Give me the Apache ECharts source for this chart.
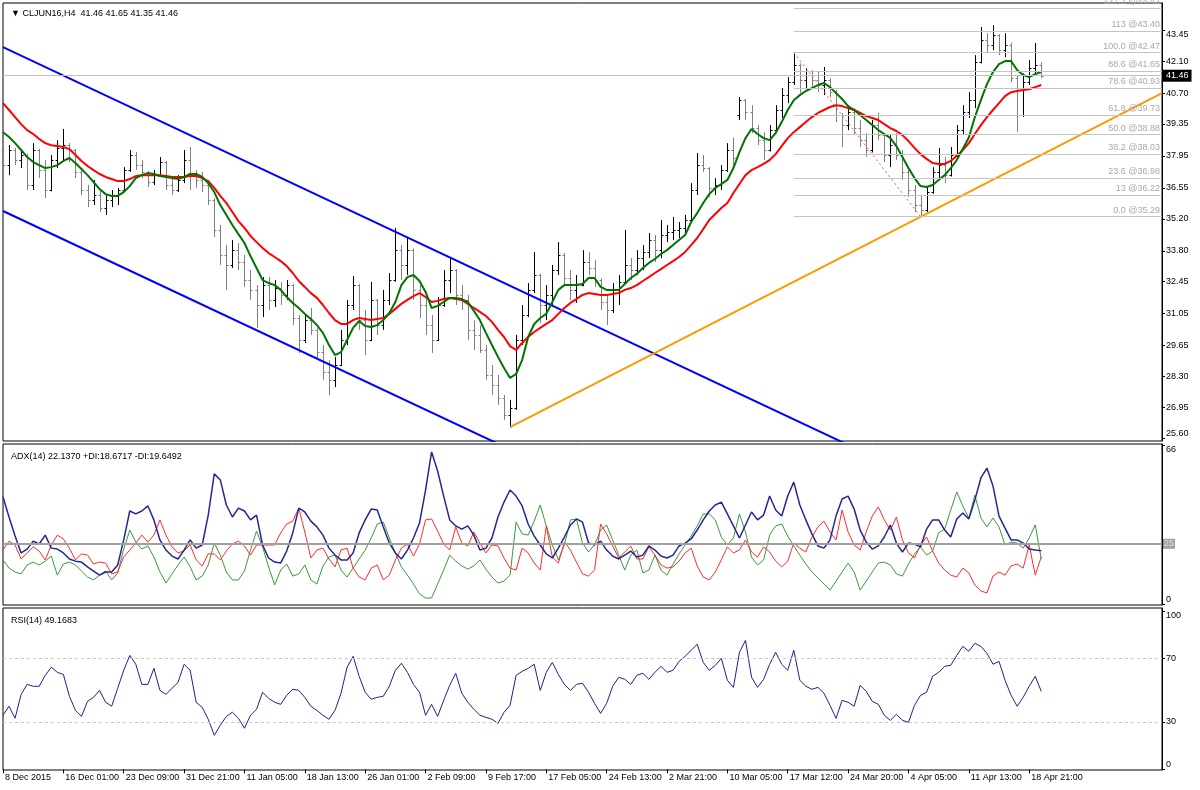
<!DOCTYPE html>
<html><head><meta charset="utf-8">
<script src="https://cdn.jsdelivr.net/npm/echarts@6/dist/echarts.min.js"></script>
<style>html,body{margin:0;padding:0;background:#fff}#c{width:1200px;height:790px}</style>
</head><body><div id="c"></div><script>
const timeLabels = ['8 Dec 2015','16 Dec 01:00','23 Dec 09:00','31 Dec 21:00','11 Jan 05:00','18 Jan 13:00','26 Jan 01:00','2 Feb 09:00','9 Feb 17:00','17 Feb 05:00','24 Feb 13:00','2 Mar 21:00','10 Mar 05:00','17 Mar 12:00','24 Mar 20:00','4 Apr 05:00','11 Apr 13:00','18 Apr 21:00'];
const priceTicks = [25.60,26.95,28.30,29.65,31.05,32.45,33.80,35.20,36.55,37.95,39.35,40.70,42.10,43.45];
const opens = [38.21,37.55,38.21,37.77,37.99,36.68,38.21,37.33,36.46,37.77,
38.30,38.42,38.21,37.25,36.46,36.02,36.24,35.67,36.02,36.24,
36.46,37.33,37.99,37.55,37.25,36.81,37.11,37.68,36.68,36.46,
36.90,37.77,37.11,36.90,36.68,36.02,34.71,33.62,33.18,33.83,
33.31,32.52,32.09,31.43,32.30,31.65,32.17,31.87,32.30,30.86,
29.90,30.77,30.34,29.37,28.50,28.15,28.80,29.90,31.43,32.30,
30.77,29.90,31.65,30.55,31.65,32.52,33.83,33.18,33.83,32.09,
31.43,30.55,29.90,31.43,32.52,32.96,31.87,31.65,30.34,30.12,
29.46,28.37,27.93,27.36,26.62,26.92,29.90,30.99,32.09,32.74,
31.43,31.87,32.96,33.62,32.61,32.09,32.30,33.31,33.05,32.52,
31.56,31.21,32.09,32.44,33.18,32.96,33.48,33.75,34.27,33.83,
34.49,34.62,34.71,34.80,35.15,36.46,37.55,37.42,36.55,36.68,
37.33,38.21,39.74,40.39,39.87,39.17,38.64,38.21,39.08,39.96,
40.61,41.18,41.92,41.27,41.49,41.27,41.05,41.27,40.74,39.74,
39.30,39.87,39.17,38.64,38.21,39.30,38.86,37.99,38.42,37.99,
37.25,36.46,35.80,35.58,36.37,37.25,37.55,37.11,37.99,39.08,
39.87,40.39,42.06,43.02,42.80,43.24,42.58,42.80,41.36,39.74,
41.18,41.79,41.92];
const highs = [38.56,38.42,38.30,38.21,38.05,38.51,38.25,37.77,37.99,38.64,
39.13,38.51,38.25,37.33,36.68,36.90,36.46,36.24,36.46,36.55,
37.46,38.21,38.12,37.77,37.30,37.33,37.90,37.72,36.98,37.11,
38.21,38.34,37.33,37.25,36.90,36.10,34.93,34.05,34.27,34.14,
33.62,32.96,32.30,32.65,32.65,32.52,32.44,32.52,32.35,30.99,
30.99,31.30,30.40,29.68,29.02,29.16,30.34,31.65,32.70,32.35,
31.21,32.44,31.70,32.09,32.83,34.80,34.05,34.40,33.90,32.30,
31.87,30.99,31.78,32.96,33.53,33.00,32.30,31.87,30.77,30.55,
29.68,28.80,28.37,27.49,27.28,30.12,31.43,32.39,33.75,32.80,
32.30,33.18,34.18,33.70,32.96,32.74,33.83,33.75,33.40,32.60,
31.87,32.39,32.74,34.71,33.48,33.83,34.05,34.58,34.49,35.15,
34.93,35.28,35.06,35.37,36.76,38.08,37.99,37.46,36.98,37.55,
38.51,38.76,40.52,40.45,40.17,39.30,38.99,39.30,40.17,40.92,
41.40,42.47,42.00,41.79,41.71,41.62,41.84,41.35,40.83,39.83,
40.17,40.04,39.52,38.95,39.52,39.83,38.90,38.86,38.95,38.21,
37.33,36.68,36.24,36.59,37.46,38.30,37.90,38.34,39.30,40.17,
40.74,42.36,43.59,43.32,43.67,43.28,43.32,42.90,41.45,41.56,
42.14,42.89,42.06];
const lows = [37.25,37.11,37.55,37.42,36.46,36.46,36.98,36.11,36.40,37.42,
37.77,37.68,36.98,36.24,35.71,35.80,35.50,35.37,35.71,35.80,
36.37,37.25,37.33,36.98,36.59,36.68,37.03,36.46,36.24,36.37,
36.76,36.46,36.55,36.37,35.80,34.40,33.18,32.09,33.05,32.96,
32.22,31.65,30.43,30.90,31.21,31.34,31.43,31.65,30.55,29.33,
29.77,30.12,29.02,28.15,27.49,27.84,28.75,29.68,31.21,30.34,
29.24,29.85,30.12,30.34,31.43,32.45,32.52,32.74,31.65,30.86,
30.12,29.33,29.85,31.35,31.95,31.43,31.21,29.90,29.46,29.33,
28.15,27.49,27.06,26.40,26.05,26.84,29.68,30.90,31.95,30.64,
30.77,31.43,32.74,32.30,31.65,31.52,32.25,32.74,32.22,31.21,
30.55,31.08,31.43,32.40,32.52,32.74,32.96,33.48,33.31,33.48,
34.18,34.27,34.36,34.49,35.06,36.24,37.25,36.15,36.24,36.46,
37.25,37.55,39.52,39.52,38.95,38.42,37.77,38.15,39.00,39.61,
40.26,41.05,40.70,40.92,40.96,40.74,40.61,40.52,39.43,38.34,
39.08,38.86,38.34,37.90,38.10,38.64,37.68,37.46,37.77,36.90,
36.15,35.50,35.29,35.50,36.30,36.90,36.76,37.05,37.90,38.86,
39.61,40.04,42.00,42.49,42.58,42.36,42.27,41.18,38.99,39.65,
41.05,41.49,41.35];
const closes = [37.55,38.21,37.77,37.99,36.68,38.21,37.33,36.46,37.77,38.30,
38.42,38.21,37.25,36.46,36.02,36.24,35.67,36.02,36.24,36.46,
37.33,37.99,37.55,37.25,36.81,37.11,37.68,36.68,36.46,36.90,
37.77,37.11,36.90,36.68,36.02,34.71,33.62,33.18,33.83,33.31,
32.52,32.09,31.43,32.30,31.65,32.17,31.87,32.30,30.86,29.90,
30.77,30.34,29.37,28.50,28.15,28.80,29.90,31.43,32.30,30.77,
29.90,31.65,30.55,31.65,32.52,33.83,33.18,33.83,32.09,31.43,
30.55,29.90,31.43,32.52,32.96,31.87,31.65,30.34,30.12,29.46,
28.37,27.93,27.36,26.62,26.92,29.90,30.99,32.09,32.74,31.43,
31.87,32.96,33.62,32.61,32.09,32.30,33.31,33.05,32.52,31.56,
31.21,32.09,32.44,33.18,32.96,33.48,33.75,34.27,33.83,34.49,
34.62,34.71,34.80,35.15,36.46,37.55,37.42,36.55,36.68,37.33,
38.21,37.86,40.39,39.87,39.17,38.64,38.21,39.08,39.96,40.61,
41.18,41.92,41.27,41.49,41.27,41.05,41.27,40.74,39.74,39.30,
39.87,39.17,38.64,38.21,39.30,38.86,37.99,38.42,37.99,37.25,
36.46,35.80,35.58,36.37,37.25,37.55,37.11,37.99,39.08,39.87,
40.39,42.06,43.02,42.80,43.24,42.58,42.80,41.36,39.74,41.18,
41.79,41.92,41.46];
const maFast = [38.99,38.78,38.51,38.21,37.90,37.68,37.55,37.42,37.46,37.55,
37.73,37.86,37.64,37.38,37.11,36.81,36.50,36.28,36.20,36.20,
36.37,36.63,36.98,37.11,37.20,37.16,37.07,37.03,36.98,36.94,
37.03,37.16,37.16,37.03,36.76,36.37,35.80,35.37,34.93,34.53,
34.14,33.57,33.05,32.52,32.39,32.30,32.09,31.78,31.52,31.30,
31.04,30.82,30.55,30.21,29.68,29.24,29.37,29.90,30.43,30.73,
30.51,30.47,30.55,30.77,31.08,31.56,32.30,32.65,32.74,32.48,
32.00,31.30,31.39,31.56,31.74,31.74,31.69,31.56,31.17,30.77,
30.21,29.68,29.16,28.67,28.24,28.41,29.02,30.03,30.60,30.86,
31.04,31.56,32.09,32.30,32.30,32.30,32.35,32.61,32.61,32.22,
32.09,32.09,32.09,32.35,32.61,32.79,33.05,33.27,33.44,33.66,
33.83,34.05,34.27,34.49,35.06,35.45,35.89,36.28,36.55,36.72,
36.90,37.42,38.12,38.73,39.13,38.91,38.73,38.64,38.95,39.43,
39.96,40.39,40.61,40.79,40.92,41.05,41.14,40.96,40.70,40.44,
40.13,39.96,39.74,39.52,39.30,39.08,38.91,38.73,38.38,37.90,
37.42,36.98,36.63,36.59,36.68,36.90,37.11,37.42,37.77,38.25,
38.76,39.65,40.39,41.09,41.62,41.97,42.10,42.10,41.71,41.49,
41.40,41.53,41.62];
const maSlow = [40.26,39.96,39.65,39.34,39.08,38.91,38.69,38.51,38.42,38.38,
38.34,38.25,37.99,37.73,37.51,37.33,37.16,37.03,36.94,36.85,
36.85,36.94,37.07,37.11,37.11,37.11,37.11,37.07,37.03,37.03,
37.03,37.07,37.07,36.98,36.85,36.55,36.20,35.89,35.50,35.10,
34.80,34.45,34.18,33.92,33.70,33.53,33.35,33.13,32.83,32.48,
32.22,31.95,31.74,31.43,31.08,30.77,30.60,30.60,30.77,30.86,
30.82,30.77,30.82,30.86,31.04,31.26,31.48,31.65,31.82,31.95,
31.78,31.56,31.61,31.69,31.74,31.69,31.65,31.48,31.30,31.13,
30.95,30.69,30.34,30.03,29.63,29.46,29.77,30.03,30.25,30.43,
30.60,30.77,31.04,31.30,31.52,31.69,31.87,31.95,31.91,31.87,
31.87,31.91,31.95,32.09,32.17,32.30,32.48,32.65,32.83,33.00,
33.18,33.35,33.53,33.75,34.05,34.36,34.75,35.15,35.41,35.67,
35.89,36.33,36.72,37.11,37.33,37.46,37.60,37.77,38.03,38.38,
38.73,38.99,39.21,39.43,39.65,39.83,39.96,40.09,40.17,40.13,
40.04,39.96,39.83,39.69,39.61,39.52,39.34,39.17,39.04,38.86,
38.60,38.30,38.03,37.82,37.64,37.60,37.60,37.73,37.95,38.21,
38.51,38.91,39.30,39.65,39.96,40.26,40.57,40.74,40.79,40.83,
40.87,40.96,41.05];
const adx = [44.4,36.1,28.2,21.2,22.8,26.1,24.9,28.6,23.2,22.8,
21.2,18.7,17.8,17.4,15.4,13.7,12.0,13.3,13.3,16.2,
26.6,38.6,37.4,38.6,40.7,34.9,26.6,22.4,19.9,18.7,
22.4,26.6,23.2,24.5,36.9,54.0,51.5,41.1,36.1,39.8,
38.6,34.9,36.9,24.5,19.1,17.4,17.0,22.0,29.5,39.8,
38.2,34.4,32.0,28.6,23.2,20.3,18.3,18.3,21.2,29.5,
34.9,39.4,39.0,32.0,25.3,21.2,18.7,22.4,27.4,33.6,
47.3,63.1,55.2,44.8,34.9,32.4,31.1,32.4,28.6,22.4,
23.2,27.4,36.1,42.3,47.3,44.8,40.7,33.2,28.2,24.5,
20.8,19.1,23.2,27.8,32.8,35.3,34.0,25.3,24.5,26.1,
22.4,19.9,18.7,20.3,22.0,19.5,20.3,24.1,22.4,19.9,
19.1,20.3,24.1,25.3,27.0,30.7,34.9,38.6,41.1,42.3,
37.4,32.4,27.4,32.8,38.2,34.9,36.9,44.8,39.0,36.5,
44.8,50.6,41.1,34.9,29.1,24.1,23.2,26.6,36.5,43.6,
44.8,39.4,30.7,25.7,22.8,24.1,27.8,32.8,25.3,21.6,
25.3,24.9,23.7,31.1,34.9,34.9,30.7,27.8,35.3,37.8,
35.3,43.2,52.3,56.4,49.0,36.5,31.5,26.6,26.6,25.3,
22.8,22.4,22.1];
const plusDI = [18.3,14.9,13.3,12.5,16.2,17.4,16.2,17.8,19.9,12.0,
16.6,17.4,16.2,13.7,11.2,10.0,12.0,13.7,10.0,12.9,
22.8,30.7,25.7,22.8,24.1,19.5,13.3,8.7,12.5,16.2,
19.5,15.4,10.0,11.6,16.2,25.3,20.3,13.3,10.0,10.0,
13.7,22.4,30.3,23.7,15.4,7.9,14.1,16.6,11.6,12.5,
16.2,10.0,8.3,15.8,19.5,20.3,14.1,11.2,14.9,18.7,
22.4,27.4,33.2,34.0,27.4,21.2,15.4,12.0,8.3,4.2,
2.5,2.5,8.3,14.1,20.3,17.8,15.8,14.5,15.8,18.3,
14.5,11.2,8.7,9.5,12.0,34.0,29.1,28.6,34.4,41.1,
32.4,24.5,18.3,24.5,34.9,35.3,25.3,21.6,24.5,30.7,
32.8,26.6,20.3,14.1,20.3,22.4,12.9,14.1,20.3,14.1,
12.0,16.6,20.8,24.5,28.2,32.4,37.4,37.4,34.9,27.8,
24.5,27.4,37.4,29.9,19.5,16.2,18.3,28.6,32.4,33.2,
28.2,24.1,20.3,16.6,13.3,10.8,8.3,5.8,9.5,13.3,
17.0,13.3,5.8,9.5,13.3,17.0,17.4,16.2,12.5,11.6,
16.6,20.8,23.7,20.3,22.0,29.5,31.1,39.0,46.5,40.7,
35.7,45.2,35.7,32.0,35.7,32.0,24.5,25.7,25.3,23.2,
27.4,32.8,18.7];
const minusDI = [22.4,26.1,24.5,18.7,21.2,23.7,22.0,18.3,24.5,28.6,
27.0,23.2,18.3,20.8,20.3,16.6,17.4,17.0,12.5,13.3,
19.5,22.4,25.3,28.6,25.7,28.6,34.9,28.6,23.7,21.2,
22.0,24.5,18.3,15.8,20.8,20.8,18.3,22.0,24.9,26.1,
24.1,20.3,24.5,24.5,24.5,24.5,29.5,33.2,34.4,39.8,
29.9,19.1,22.4,23.2,18.7,15.4,22.4,23.2,14.9,11.2,
10.0,14.9,16.2,10.0,12.0,18.3,23.2,24.9,19.9,24.9,
34.9,35.3,30.3,24.9,22.4,32.0,25.3,24.1,29.9,25.3,
21.2,24.5,24.1,19.1,14.9,14.1,23.2,21.2,17.0,14.1,
32.4,19.5,17.0,25.7,22.4,17.4,12.5,11.6,14.1,33.2,
29.1,24.1,19.1,21.6,24.1,18.7,18.7,23.7,20.3,16.2,
14.9,15.4,17.8,21.2,23.2,15.8,11.2,10.0,13.3,18.3,
23.7,21.2,22.4,26.6,21.6,19.5,23.7,21.6,17.8,15.4,
17.8,25.3,23.2,21.6,27.8,32.0,34.4,29.9,26.6,39.0,
29.9,24.5,22.4,29.9,36.5,40.3,34.9,30.7,36.1,26.6,
21.2,19.1,24.5,27.8,22.0,17.0,14.1,12.0,11.2,14.9,
12.9,7.9,5.4,4.6,11.6,13.3,12.0,15.8,16.6,14.9,
24.5,12.0,19.6];
const rsi = [34.1,39.8,32.2,47.3,53.6,52.4,52.4,59.3,64.4,61.2,
59.9,46.1,37.2,33.4,42.9,45.4,49.8,42.3,39.8,51.1,
62.5,71.9,66.3,53.6,53.6,63.7,49.8,47.3,51.1,54.9,
66.3,62.5,42.3,39.1,31.6,21.5,27.8,33.4,36.0,32.2,
25.9,34.1,37.9,48.6,44.8,42.3,41.0,46.7,50.5,49.8,
45.4,39.8,37.2,34.1,31.6,37.2,48.0,64.4,71.3,58.7,
48.6,44.2,45.4,46.1,52.4,62.5,66.9,61.2,53.6,48.6,
34.1,41.0,33.4,43.5,53.0,60.6,48.0,42.3,37.9,34.1,
32.8,31.6,29.0,36.0,40.4,59.3,61.8,63.7,66.3,49.8,
61.2,67.5,59.9,53.6,49.8,53.6,54.3,48.6,41.6,35.3,
41.6,52.4,58.1,56.8,53.6,59.3,60.6,56.8,61.2,65.0,
61.2,62.5,68.1,71.3,75.1,78.9,67.5,62.5,65.6,70.0,
56.2,51.7,73.8,81.4,58.1,51.7,56.8,66.3,73.8,66.3,
62.5,75.1,56.2,52.4,50.5,51.7,48.0,40.4,32.2,43.5,
42.3,39.8,53.0,49.2,42.9,41.0,34.1,30.9,34.7,30.9,
29.7,40.4,46.7,48.6,58.7,61.2,65.0,65.6,71.9,77.6,
74.5,79.5,77.6,73.2,66.3,68.1,56.2,46.7,39.8,45.4,
52.4,58.7,49.2];
const fibLevels = ['127.2','113','100.0','88.6','78.6','61.8','50.0','38.2','23.6','13','0.0'];
const fibPrices = [44.42,43.40,42.47,41.65,40.93,39.73,38.88,38.03,36.98,36.22,35.29];
const fibFromBar = 131, lastSlot = 192;
const upperChannel = [[0,42.71],[140,25.31]];
const lowerChannel = [[0,35.54],[82,25.36]];
const supportLine = [[84,26.09],[192,40.70]];
const fibSwing = [[131,42.47],[152,35.29]];
const lastPrice = 41.46;
const adxLevel = 25;
const rsiLevels = [70,30];

const FONT = 'Liberation Sans';
const N = lastSlot + 1;
const categories = Array.from({length: N}, (_, i) => String(i));
const bars = opens.map((o, i) => [i, o, highs[i], lows[i], closes[i]]);

const chart = echarts.init(document.getElementById('c'), null, {renderer: 'canvas'});
const grids = [
  {left: 3, top: 3, width: 1159, height: 438},
  {left: 3, top: 444, width: 1159, height: 161},
  {left: 3, top: 608, width: 1159, height: 162}
].map(g => Object.assign(g, {show: true, borderColor: '#000', borderWidth: 1, backgroundColor: '#fff'}));

const xAxes = [0, 1, 2].map(gi => ({
  type: 'category', gridIndex: gi, data: categories, boundaryGap: false,
  axisLine: {show: false},
  axisTick: gi === 2 ? {show: true, length: 4, lineStyle: {color: '#000'}, interval: (idx) => idx % 10 === 0 && idx / 10 < timeLabels.length} : {show: false},
  axisLabel: gi === 2 ? {
    show: true, fontFamily: FONT, fontSize: 9, color: '#000', margin: 3, align: 'left', padding: [0, 0, 0, 2],
    interval: (idx) => idx % 10 === 0 && idx / 10 < timeLabels.length,
    formatter: (v, idx) => timeLabels[Math.round(Number(v) / 10)] || ''
  } : {show: false},
  splitLine: {show: false}
}));

function yAx(gi, min, max, ticks, fmt) {
  return {
    type: 'value', gridIndex: gi, position: 'right', min: min, max: max,
    splitLine: {show: false},
    axisLine: {show: true, lineStyle: {color: '#000'}},
    axisTick: {show: true, customValues: ticks, length: 3, lineStyle: {color: '#000'}},
    axisLabel: {show: true, customValues: ticks, formatter: fmt, fontFamily: FONT, fontSize: 9, color: '#000', margin: 4,
      verticalAlignMaxLabel: 'top', verticalAlignMinLabel: 'bottom'}
  };
}
const yAxes = [
  yAx(0, 25.48, 44.64, priceTicks, v => Number(v).toFixed(2)),
  yAx(1, -0.4, 66.4, [0, 66], v => String(Math.round(v))),
  yAx(2, -0.44, 101.8, [0, 30, 70, 100], v => String(Math.round(v)))
];

function seg(points, color, width, type) {
  return {type: 'line', xAxisIndex: 0, yAxisIndex: 0, data: points, symbol: 'none', silent: true,
    lineStyle: {color: color, width: width, type: type || 'solid'}, clip: true, z: 3};
}

const fibMarks = fibPrices.map((p, k) => [
  {coord: [fibFromBar, p], label: {formatter: fibLevels[k] + ' @' + p.toFixed(2)}},
  {coord: [lastSlot, p]}
]);

const series = [
  {type: 'line', xAxisIndex: 0, yAxisIndex: 0, data: [], silent: true, z: 1,
    markLine: {silent: true, symbol: ['none', 'none'], animation: false,
      lineStyle: {color: '#c4c4c4', width: 1, type: 'solid'},
      label: {show: true, position: 'insideEndTop', color: '#a8a8a8', fontFamily: FONT, fontSize: 9, distance: 2},
      data: fibMarks}},
  {type: 'line', xAxisIndex: 0, yAxisIndex: 0, data: [], silent: true, z: 1,
    markLine: {silent: true, symbol: ['none', 'none'], animation: false,
      lineStyle: {color: '#c0c0c0', width: 1, type: 'solid'},
      label: {show: true, position: 'end', formatter: lastPrice.toFixed(2), backgroundColor: '#000', color: '#fff',
        fontFamily: FONT, fontSize: 9, padding: [2, 3, 1, 3], distance: 1},
      data: [{yAxis: lastPrice}]}},
  {type: 'custom', xAxisIndex: 0, yAxisIndex: 0, data: bars, encode: {x: 0, y: [1, 2, 3, 4]}, z: 2, silent: true,
    renderItem: (params, api) => {
      const i = api.value(0);
      const o = api.value(1), h = api.value(2), l = api.value(3), c = api.value(4);
      const pH = api.coord([i, h]), pL = api.coord([i, l]), pO = api.coord([i, o]), pC = api.coord([i, c]);
      const col = c >= o ? '#000000' : '#808080';
      const x = Math.round(pH[0]) + 0.5;
      return {type: 'group', children: [
        {type: 'line', shape: {x1: x, y1: pH[1], x2: x, y2: pL[1]}, style: {stroke: col, lineWidth: 1}},
        {type: 'line', shape: {x1: x - 2, y1: Math.round(pO[1]) + 0.5, x2: x, y2: Math.round(pO[1]) + 0.5}, style: {stroke: col, lineWidth: 1}},
        {type: 'line', shape: {x1: x, y1: Math.round(pC[1]) + 0.5, x2: x + 2, y2: Math.round(pC[1]) + 0.5}, style: {stroke: col, lineWidth: 1}}
      ]};
    }},
  {type: 'line', xAxisIndex: 0, yAxisIndex: 0, data: maSlow, symbol: 'none', smooth: false, silent: true, z: 4,
    lineStyle: {color: '#ff0000', width: 2}},
  {type: 'line', xAxisIndex: 0, yAxisIndex: 0, data: maFast, symbol: 'none', smooth: false, silent: true, z: 4,
    lineStyle: {color: '#007400', width: 2}},
  seg(upperChannel, '#0000ff', 2),
  seg(lowerChannel, '#0000ff', 2),
  seg(supportLine, '#ff9900', 2),
  seg(fibSwing, '#ff5050', 1, [2, 3]),
  // ADX panel
  {type: 'line', xAxisIndex: 1, yAxisIndex: 1, data: [], silent: true, z: 1,
    markLine: {silent: true, symbol: ['none', 'none'], animation: false,
      lineStyle: {color: '#a0a0a0', width: 2, type: 'solid'},
      label: {show: true, position: 'end', formatter: String(adxLevel), backgroundColor: '#a0a0a0', color: '#e4e4e4',
        fontFamily: FONT, fontSize: 9, padding: [1, 1, 0, 1], distance: 1},
      data: [{yAxis: adxLevel}]}},
  {type: 'line', xAxisIndex: 1, yAxisIndex: 1, data: plusDI, symbol: 'none', silent: true, z: 3,
    lineStyle: {color: '#3a9a3a', width: 1}},
  {type: 'line', xAxisIndex: 1, yAxisIndex: 1, data: minusDI, symbol: 'none', silent: true, z: 3,
    lineStyle: {color: '#ff2a2a', width: 1}},
  {type: 'line', xAxisIndex: 1, yAxisIndex: 1, data: adx, symbol: 'none', silent: true, z: 4,
    lineStyle: {color: '#262690', width: 1.5}},
  // RSI panel
  {type: 'line', xAxisIndex: 2, yAxisIndex: 2, data: rsi, symbol: 'none', silent: true, z: 3,
    lineStyle: {color: '#20208c', width: 1},
    markLine: {silent: true, symbol: ['none', 'none'], animation: false,
      lineStyle: {color: '#c8c8c8', width: 1, type: [3, 3]}, label: {show: false},
      data: rsiLevels.map(v => ({yAxis: v}))}}
];

chart.setOption({
  animation: false,
  backgroundColor: '#ffffff',
  textStyle: {fontFamily: FONT},
  title: [
    {text: '\u25BC CLJUN16,H4  41.46 41.65 41.35 41.46', left: 6, top: 4, textStyle: {fontFamily: FONT, fontSize: 9, fontWeight: 'normal', color: '#000'}},
    {text: 'ADX(14) 22.1370 +DI:18.6717 -DI:19.6492', left: 6, top: 447, textStyle: {fontFamily: FONT, fontSize: 9, fontWeight: 'normal', color: '#000'}},
    {text: 'RSI(14) 49.1683', left: 6, top: 611, textStyle: {fontFamily: FONT, fontSize: 9, fontWeight: 'normal', color: '#000'}}
  ],
  grid: grids,
  xAxis: xAxes,
  yAxis: yAxes,
  series: series
});
</script></body></html>
